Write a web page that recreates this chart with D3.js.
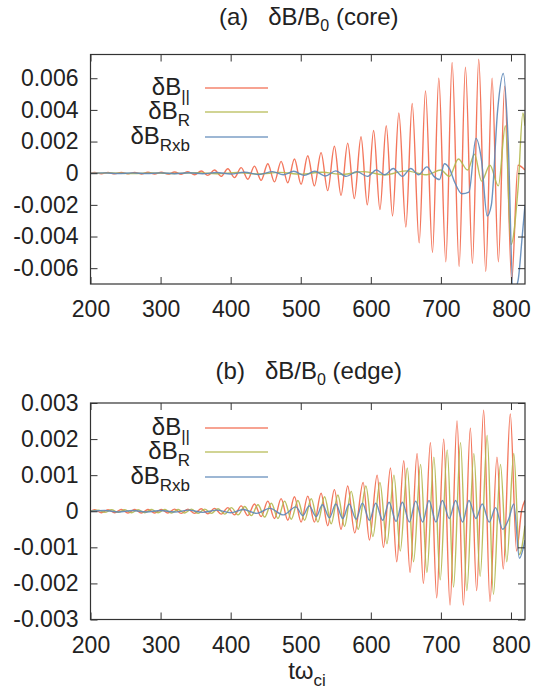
<!DOCTYPE html>
<html>
<head>
<meta charset="utf-8">
<script src="https://cdn.jsdelivr.net/npm/d3@7"></script>
<style>
  body { margin: 0; background: #fff; }
  svg { font-family: "Liberation Sans", Arial, sans-serif; }
  text { white-space: pre; fill: #222; }
</style>
</head>
<body>
<div id="chart"></div>
<script>
// tick values
const xTicks = [200, 300, 400, 500, 600, 700, 800];
const coreTicks = [-0.006, -0.004, -0.002, 0, 0.002, 0.004, 0.006];
const edgeTicks = [-0.003, -0.002, -0.001, 0, 0.001, 0.002, 0.003];

// series names / colours
const seriesNames = [["δB", "||"], ["δB", "R"], ["δB", "Rxb"]];
const seriesColors = ["#f2674a", "#b3b84e", "#5d87b8"];

// (a) core: δB|| (peaks / troughs)
const coreParT = [200, 206, 215.5, 225, 234.5, 244, 253.5, 263, 272.5, 282, 291.5, 301, 310.5, 320, 329.5, 339, 348.5, 358, 367.5, 377, 386.5,
  396, 405.5, 415, 424.5, 434, 443.5, 453, 462.5, 472, 481.5, 491, 500.5, 510, 519.5, 529, 538.5, 548, 557.5, 567, 576.5, 586, 595,
  604, 613, 622, 631, 640, 650, 659, 669, 678, 688, 697, 707, 716, 726, 735, 745, 754, 764, 773, 782, 791, 801, 810, 820];
const coreParV = [0, 0.00004, -0.00003, 0.00004, -0.00004, 0.00005, -0.00004, 0.00005, -0.00005, 0.00006, -0.00005, 0.00006, -0.00006, 0.00008, -0.00007, 0.0001, -0.0001, 0.00014, -0.00014, 0.0002, -0.0002,
  0.00028, -0.00028, 0.00035, -0.00038, 0.00045, -0.00045, 0.0006, -0.00055, 0.00075, -0.0006, 0.0009, -0.0007, 0.0011, -0.0008, 0.0013, -0.0011, 0.0017, -0.0014, 0.0019, -0.0016, 0.0023, -0.002,
  0.0027, -0.0023, 0.003, -0.0027, 0.0038, -0.0034, 0.0044, -0.0044, 0.0052, -0.005, 0.006, -0.0056, 0.007, -0.0059, 0.0067, -0.0057, 0.0072, -0.0062, 0.006, -0.0056, 0.0055, -0.0068, 0.0005, 0.0002];

// (a) core: δB_R
const coreRT = [200, 230, 260, 290, 320, 350, 380, 410, 440, 470, 500, 530, 560, 590, 620, 650, 680, 700, 712, 725, 738, 748, 758, 770, 782, 792, 800, 810, 817, 820];
const coreRV = [0, 0.00002, -0.00002, 0.00002, -0.00002, 0.00003, -0.00003, 0.00004, -0.00005, 0.00005, -0.00006, 0.00006, -0.00008, 0.0001, -0.0001, 0.00015, -0.0001, 0.0002, -0.0002, 0.0009, 0.0002, 0.0012, -0.0005, 0.0005, -0.0008, 0.003, -0.0045, -0.001, 0.0038, 0.003];

// (a) core: δB_Rxb
const coreRxbT = [200, 220, 240, 260, 280, 300, 320, 340, 360, 380, 400, 420, 440, 460, 475, 490, 505, 520, 535, 550, 565, 580, 595, 608, 620, 632, 645, 657, 668, 680, 690,
  698, 705, 712, 720, 730, 740, 750, 758, 766, 772, 781, 789, 796, 803, 810, 816, 820];
const coreRxbV = [0, 0.00002, -0.00002, 0.00002, -0.00002, 0.00002, -0.00003, 0.00003, -0.00003, 0.00004, -0.00005, 0.00006, -0.00008, 0.0001, -0.0001, 0.00012, -0.00014, 0.00012, -0.00018, 0.00015, -0.0002, 0.0001, -0.0002, 0.0002, -0.0001, 0.0003, -0.0002, 0.0003, -0.0001, 0.0004, -0.0002,
  -0.0004, 0.0006, 0.0003, -0.0006, -0.0013, -0.0012, 0.0022, 0.0008, -0.0027, -0.002, 0.004, 0.0063, 0.002, -0.0075, -0.0068, -0.004, -0.002];

// (b) edge: δB||
const edgeParT = [200, 206, 215.5, 225, 234.5, 244, 253.5, 263, 272.5, 282, 291.5, 301, 310.5, 320, 329.5, 339, 348.5, 358, 367.5, 377, 386.5,
  396, 405.5, 415, 424.5, 434, 443.5, 453, 462.5, 472, 481.5, 491, 500.5, 510, 519.5, 529, 538.5, 548, 557.5, 567, 577, 589, 598,
  609, 618, 628, 637, 647, 656, 666, 675, 685, 694, 704, 713, 723, 732, 742, 751, 761, 770, 780, 789, 799, 808, 815, 820];
const edgeParV = [0, 0.00004, -0.00004, 0.00004, -0.00004, 0.00005, -0.00005, 0.00005, -0.00005, 0.00005, -0.00005, 0.00005, -0.00005, 0.00006, -0.00006, 0.00006, -0.00006, 0.00007, -0.00007, 0.00008, -0.00008,
  0.0001, -0.0001, 0.00015, -0.00012, 0.0002, -0.00015, 0.00028, -0.0002, 0.00035, -0.00025, 0.0004, -0.0003, 0.00042, -0.0003, 0.0005, -0.0004, 0.0006, -0.0005, 0.0007, -0.0006, 0.0008, -0.0008,
  0.001, -0.001, 0.0012, -0.0014, 0.0014, -0.0017, 0.0016, -0.002, 0.0019, -0.0024, 0.002, -0.0026, 0.0025, -0.0026, 0.0023, -0.0022, 0.0028, -0.0025, 0.0015, -0.0016, 0.0027, -0.0011, 0, 0.0003];

// (b) edge: δB_R
const edgeRT = [200, 211, 220.5, 230, 239.5, 249, 258.5, 268, 277.5, 287, 296.5, 306, 315.5, 325, 334.5, 344, 353.5, 363, 372.5, 382, 391.5,
  401, 410.5, 420, 429.5, 439, 448.5, 458, 467.5, 477, 486.5, 496, 505.5, 515, 524.5, 534, 543.5, 553, 562.5, 572, 582, 593, 603,
  613, 623, 633, 642, 652, 661, 671, 680, 690, 699, 709, 718, 728, 737, 747, 756, 766, 775, 785, 794, 804, 812, 820];
const edgeRV = [0, 0.00003, -0.00003, 0.00004, -0.00003, 0.00004, -0.00004, 0.00004, -0.00004, 0.00005, -0.00004, 0.00005, -0.00005, 0.00005, -0.00005, 0.00006, -0.00006, 0.00006, -0.00006, 0.00007, -0.00008,
  0.0001, -0.0001, 0.00013, -0.00012, 0.00018, -0.00016, 0.00022, -0.0002, 0.00028, -0.00022, 0.0003, -0.00025, 0.00035, -0.0003, 0.0004, -0.00035, 0.00045, -0.00042, 0.00055, -0.0005, 0.0007, -0.0007,
  0.0008, -0.0009, 0.001, -0.0011, 0.0012, -0.0014, 0.0013, -0.0017, 0.0015, -0.0019, 0.0017, -0.0021, 0.0019, -0.0022, 0.0016, -0.0018, 0.0021, -0.0023, 0.0013, -0.0014, 0.0016, -0.0012, -0.0004];

// (b) edge: δB_Rxb
const edgeRxbT = [200, 220, 240, 260, 280, 300, 320, 340, 360, 380, 400, 418, 437, 456, 475, 493, 503, 512, 522, 531, 541, 550, 560, 569, 579, 588, 598,
  607, 617, 626, 636, 645, 655, 664, 674, 683, 693, 702, 712, 721, 731, 740, 750, 759, 769, 778, 788, 797, 804, 812, 820];
const edgeRxbV = [0, 0.00002, -0.00002, 0.00002, -0.00002, 0.00002, -0.00002, 0.00003, -0.00003, 0.00003, -0.00004, 0.00005, -0.00006, 0.00008, -0.0001, 0.00012, -0.00012, 0.00015, -0.00015, 0.00018, -0.00018, 0.0002, -0.0002, 0.0002, -0.00022, 0.00022, -0.00025,
  0.00022, -0.00025, 0.00025, -0.00028, 0.00025, -0.0003, 0.00028, -0.0003, 0.0003, -0.0003, 0.0003, -0.0002, 0.0003, -0.0003, 0.0003, -0.0002, 0.0002, -0.0003, 0.0001, -0.0005, -0.0002, 0.0002, -0.0013, -0.0008];

const width = 535, height = 694;
const plotLeft = 90.5, plotRight = 525;

const svg = d3.select("#chart")
  .append("svg")
  .attr("width", width)
  .attr("height", height);

const x = d3.scaleLinear().domain([200, 820]).range([plotLeft, plotRight]);

const panels = [
  { label: "(a)", part: "(core)", titleY: 25, top: 54.5, bottom: 284, yDomain: [-0.007, 0.0075], ticks: coreTicks,
    legendY: [88, 112, 137],
    series: [[coreParT, coreParV], [coreRT, coreRV], [coreRxbT, coreRxbV]] },
  { label: "(b)", part: "(edge)", titleY: 379, top: 403, bottom: 619.5, yDomain: [-0.003, 0.003], ticks: edgeTicks,
    legendY: [428, 452, 477],
    series: [[edgeParT, edgeParV], [edgeRT, edgeRV], [edgeRxbT, edgeRxbV]] }
];

const tickFmt = d => d === 0 ? "0" : d.toFixed(3);

panels.forEach((p, pi) => {
  const y = d3.scaleLinear().domain(p.yDomain).range([p.bottom, p.top]);
  const g = svg.append("g");

  // title
  const title = g.append("text")
    .attr("x", (plotLeft + plotRight) / 2 + 1)
    .attr("y", p.titleY)
    .attr("text-anchor", "middle")
    .style("font-size", "24px");
  title.append("tspan").text(p.label + "   δB/B");
  title.append("tspan").attr("dy", 6).style("font-size", "16px").text("0");
  title.append("tspan").attr("dy", -6).text(" " + p.part);

  // clip
  g.append("clipPath").attr("id", "clip" + pi)
    .append("rect")
    .attr("x", plotLeft).attr("y", p.top)
    .attr("width", plotRight - plotLeft).attr("height", p.bottom - p.top);

  // lines
  const line = d3.line()
    .x(d => x(d[0]))
    .y(d => y(d[1]))
    .curve(d3.curveMonotoneX);

  const plot = g.append("g").attr("clip-path", `url(#clip${pi})`);
  p.series.forEach((s, si) => {
    const pts = s[0].map((t, i) => [t, s[1][i]]);
    plot.append("path")
      .datum(pts)
      .attr("fill", "none")
      .attr("stroke", seriesColors[si])
      .attr("stroke-width", 1.4)
      .attr("stroke-opacity", 0.9)
      .attr("d", line);
  });

  // axes (gnuplot style: inward ticks, mirrored)
  const axisStyle = a => a.select(".domain").remove();
  g.append("g")
    .attr("transform", `translate(${plotLeft},0)`)
    .call(d3.axisLeft(y).tickValues(p.ticks).tickFormat(tickFmt).tickSize(-7).tickPadding(12))
    .call(axisStyle)
    .call(a => a.selectAll("text").style("font-size", "23px").attr("fill", "#222"));
  g.append("g")
    .attr("transform", `translate(${plotRight},0)`)
    .call(d3.axisRight(y).tickValues(p.ticks).tickFormat("").tickSize(-7))
    .call(axisStyle);
  g.append("g")
    .attr("transform", `translate(0,${p.bottom})`)
    .call(d3.axisBottom(x).tickValues(xTicks).tickFormat(d3.format("d")).tickSize(-7).tickPadding(17))
    .call(axisStyle)
    .call(a => a.selectAll("text").style("font-size", "23px").attr("fill", "#222"));
  g.append("g")
    .attr("transform", `translate(0,${p.top})`)
    .call(d3.axisTop(x).tickValues(xTicks).tickFormat("").tickSize(-7))
    .call(axisStyle);
  g.selectAll(".tick line").attr("stroke", "#333");

  g.append("rect")
    .attr("x", plotLeft).attr("y", p.top)
    .attr("width", plotRight - plotLeft).attr("height", p.bottom - p.top)
    .attr("fill", "none")
    .attr("stroke", "#333")
    .attr("stroke-width", 1.2);

  // legend
  seriesNames.forEach((n, si) => {
    const ly = p.legendY[si];
    const t = g.append("text")
      .attr("x", 190)
      .attr("y", ly + 7)
      .attr("text-anchor", "end")
      .style("font-size", "24px");
    t.append("tspan").text(n[0]);
    t.append("tspan").attr("dy", 7).style("font-size", "17px").text(n[1]);
    g.append("line")
      .attr("x1", 205).attr("x2", 268)
      .attr("y1", ly).attr("y2", ly)
      .attr("stroke", seriesColors[si])
      .attr("stroke-width", 1.3)
      .attr("stroke-opacity", 0.8);
  });
});

// x axis title
const xl = svg.append("text")
  .attr("x", 307)
  .attr("y", 679)
  .attr("text-anchor", "middle")
  .style("font-size", "24px");
xl.append("tspan").text("tω");
xl.append("tspan").attr("dy", 7).style("font-size", "17px").text("ci");
</script>
</body>
</html>
